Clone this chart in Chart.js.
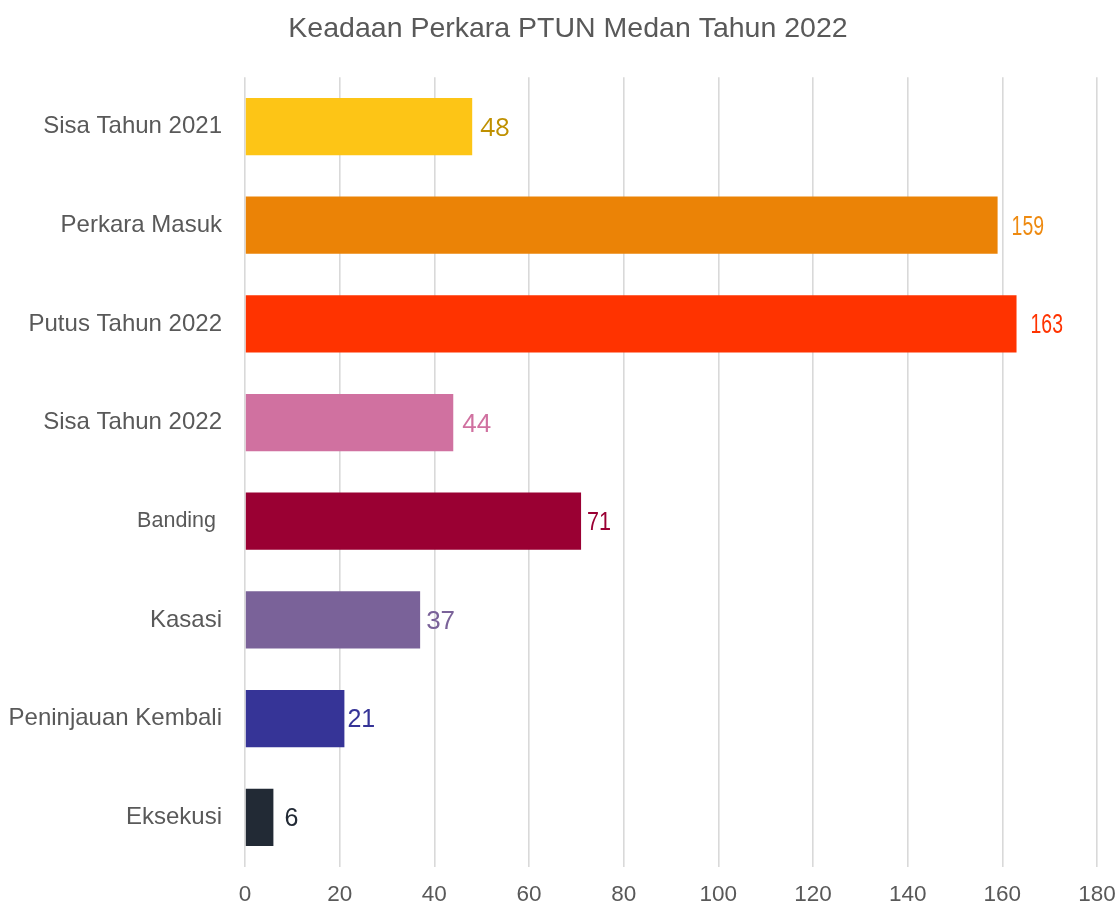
<!DOCTYPE html>
<html>
<head>
<meta charset="utf-8">
<script src="https://cdn.jsdelivr.net/npm/chart.js@4"></script>
<style>
  html, body { margin: 0; padding: 0; background: #fff; }
  #wrap { width: 1120px; height: 904px; position: relative; }
</style>
</head>
<body>
<div id="wrap"><canvas id="chartBar"></canvas></div>
<script>
// dados do grafico
const kategori = ['Sisa Tahun 2021', 'Perkara Masuk', 'Putus Tahun 2022', 'Sisa Tahun 2022', 'Banding ', 'Kasasi', 'Peninjauan Kembali', 'Eksekusi'];
const jumlah = [48, 159, 163, 44, 71, 37, 21, 6];
const tickX = [0, 20, 40, 60, 80, 100, 120, 140, 160, 180];

// estilos (separados dos dados)
const warnaBatang = ['#FDC516', '#EB8306', '#FF3300', '#D071A0', '#9A0033', '#7A6299', '#363497', '#222A35'];
const warnaLabel = ['#BF9000', '#EE8A10', '#FF3300', '#D071A0', '#9A0033', '#7A6299', '#363497', '#222A35'];
const fonteLabel = [
    '26px "Open Sans"',
    '27px "Liberation Sans"',
    '27px "Liberation Sans"',
    '26px "Liberation Sans"',
    '26px "Liberation Sans"',
    '26px "Liberation Sans"',
    '25px "Liberation Sans"',
    '25px "Liberation Sans"'
];
const escalaLabel = [1, 0.72, 0.72, 1, 0.83, 1, 1, 1];
const jarakLabel = [8, 14, 14, 9, 6, 6, 3, 11];

const labelBatang = {
    id: 'labelBatang',
    afterLayout(chart) {
        // deixa os rotulos do eixo y usarem toda a margem esquerda
        chart.scales.y.left = 0;
    },
    afterDatasetsDraw(chart) {
        const c = chart.ctx;
        const meta = chart.getDatasetMeta(0);
        meta.data.forEach(function (bar, i) {
            c.save();
            c.textBaseline = 'middle';
            c.textAlign = 'left';
            c.font = fonteLabel[i];
            c.fillStyle = warnaLabel[i];
            c.translate(bar.x + jarakLabel[i], bar.y + 2);
            c.scale(escalaLabel[i], 1);
            c.fillText(String(jumlah[i]), 0, 0);
            c.restore();
        });
    }
};

const ctx = document.getElementById('chartBar');

var myBarChart = new Chart(ctx, {
    type: 'bar',
    data: {
        labels: kategori,
        datasets: [{
            label: 'Jumlah',
            data: jumlah,
            backgroundColor: warnaBatang,
            borderWidth: 0,
            barPercentage: 0.58,
            categoryPercentage: 1
        }]
    },
    options: {
        indexAxis: 'y',
        responsive: true,
        maintainAspectRatio: false,
        animation: false,
        layout: {
            autoPadding: false,
            padding: { left: 39, right: 23, top: 0, bottom: 0 }
        },
        scales: {
            x: {
                min: 0,
                max: 180,
                afterBuildTicks: function (scale) {
                    scale.ticks = tickX.map(function (v) { return { value: v }; });
                },
                afterFit: function (scale) {
                    scale.height = 36;
                    scale.paddingLeft = 0;
                    scale.paddingRight = 0;
                },
                grid: {
                    color: '#D9D9D9',
                    lineWidth: 1.6,
                    drawTicks: false
                },
                border: { display: false },
                ticks: {
                    padding: 15,
                    color: '#595959',
                    font: { family: '"Liberation Sans", Arial', size: 22.5 }
                }
            },
            y: {
                afterFit: function (scale) { scale.width = 206; },
                grid: { display: false, drawTicks: false },
                border: { display: false },
                ticks: {
                    padding: 23,
                    color: '#595959',
                    font: function (context) {
                        if (context.index === 4) {
                            return { family: '"Liberation Sans", Arial', size: 21.5 };
                        }
                        return { family: '"Liberation Sans", Arial', size: 24 };
                    }
                }
            }
        },
        plugins: {
            legend: { display: false },
            tooltip: { enabled: false },
            title: {
                display: true,
                text: 'Keadaan Perkara PTUN Medan Tahun 2022',
                color: '#595959',
                font: { family: '"Liberation Sans", Arial', size: 28.5, weight: 'normal' },
                padding: { top: 12, bottom: 31 }
            }
        }
    },
    plugins: [labelBatang]
});
</script>
</body>
</html>
